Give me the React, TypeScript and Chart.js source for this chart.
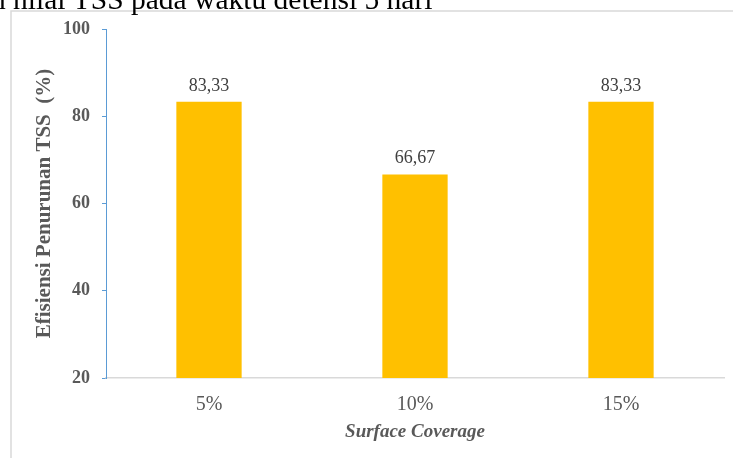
import React, { useEffect, useRef } from "react";
import { Chart, registerables } from "chart.js";

Chart.register(...registerables);

// Surface coverage treatments and TSS removal efficiency (%)
const categories = ["5%", "10%", "15%"];
const efficiency = [83.33, 66.67, 83.33];
const yTicks = [20, 40, 60, 80, 100];

const captionText = "n nilai TSS pada waktu detensi 5 hari";
const yTitle = "Efisiensi Penurunan TSS  (%)";
const xTitle = "Surface Coverage";

const SERIF = "'Liberation Serif', 'Times New Roman', serif";

const fmt = (v: number) => v.toFixed(2).replace(".", ",");

// frame, caption line and value labels above bars
const decorPlugin = {
  id: "decor",
  beforeDraw(chart: any) {
    const ctx = chart.ctx;
    ctx.save();
    ctx.fillStyle = "#ffffff";
    ctx.fillRect(0, 0, chart.width, chart.height);
    ctx.strokeStyle = "#D9D9D9";
    ctx.lineWidth = 1.5;
    ctx.beginPath();
    ctx.moveTo(11, chart.height);
    ctx.lineTo(11, 11);
    ctx.lineTo(chart.width, 11);
    ctx.stroke();

    ctx.fillStyle = "#000000";
    ctx.font = `29.5px ${SERIF}`;
    ctx.textBaseline = "alphabetic";
    ctx.textAlign = "left";
    const lead = ctx.measureText("n ").width;
    ctx.fillText(captionText, 13 - lead, 8.5);
    ctx.restore();
  },
  afterDatasetsDraw(chart: any) {
    const ctx = chart.ctx;
    const meta = chart.getDatasetMeta(0);
    ctx.save();
    ctx.fillStyle = "#404040";
    ctx.font = `18px ${SERIF}`;
    ctx.textAlign = "center";
    ctx.textBaseline = "alphabetic";
    meta.data.forEach((bar: any, i: number) => {
      ctx.fillText(fmt(efficiency[i]), bar.x, bar.y - 11);
    });
    ctx.restore();
  },
};

export default function App() {
  const ref = useRef<HTMLCanvasElement>(null);

  useEffect(() => {
    document.body.style.margin = "0";
    const chart = new Chart(ref.current!, {
      type: "bar",
      data: {
        labels: categories,
        datasets: [
          {
            data: efficiency,
            backgroundColor: "#FFC000",
            borderWidth: 0,
            categoryPercentage: 1,
            barPercentage: 0.317,
          },
        ],
      },
      options: {
        animation: false,
        responsive: false,
        events: [],
        layout: { padding: { top: 29, right: 9, left: 0, bottom: 0 } },
        plugins: {
          legend: { display: false },
          tooltip: { enabled: false },
        },
        scales: {
          x: {
            grid: { display: false },
            border: { color: "#D9D9D9", width: 1.5 },
            ticks: {
              color: "#595959",
              font: { family: SERIF, size: 20 },
              padding: 7,
            },
            title: {
              display: true,
              text: xTitle,
              color: "#595959",
              font: { family: SERIF, size: 19, style: "italic", weight: "bold" },
              padding: { top: 0, bottom: 15 },
            },
            afterFit(scale: any) {
              scale.height = 80;
            },
          },
          y: {
            min: 20,
            max: 100,
            afterBuildTicks(scale: any) {
              scale.ticks = yTicks.map((v) => ({ value: v }));
            },
            grid: {
              display: true,
              drawOnChartArea: false,
              drawTicks: true,
              tickLength: 4,
              color: "#5B9BD5",
            },
            border: { color: "#5B9BD5", width: 1 },
            ticks: {
              color: "#595959",
              font: { family: SERIF, size: 18, weight: "bold" },
              padding: 12,
            },
            title: {
              display: true,
              text: yTitle,
              color: "#595959",
              font: { family: SERIF, size: 21, weight: "bold" },
              padding: { top: 32, bottom: 0 },
            },
            afterFit(scale: any) {
              scale.width = 106;
            },
          },
        },
      },
      plugins: [decorPlugin],
    });
    return () => chart.destroy();
  }, []);

  return (
    <div style={{ position: "fixed", left: 0, top: 0, width: 733, height: 458, background: "#fff" }}>
      <canvas ref={ref} width={733} height={458} style={{ width: 733, height: 458, display: "block" }} />
    </div>
  );
}
